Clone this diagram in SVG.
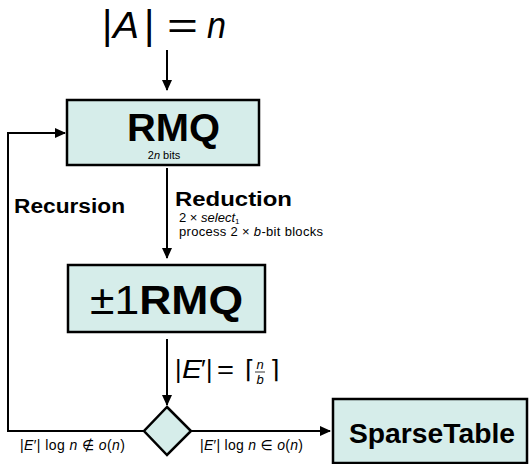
<svg xmlns="http://www.w3.org/2000/svg" width="529" height="464" viewBox="0 0 529 464">
<style>
.box{fill:#d6edea;stroke:#000;stroke-width:2.5}
.ln{fill:none;stroke:#000;stroke-width:2}
text{font-family:"Liberation Sans","DejaVu Sans",sans-serif;fill:#000}
.b{font-weight:bold}
.i{font-style:italic}
</style>
<defs>
<marker id="ah" markerWidth="11" markerHeight="10" refX="10" refY="5" orient="auto" markerUnits="userSpaceOnUse">
<path d="M0,0 L11,5 L0,10 Z" fill="#000"/>
</marker>
</defs>
<rect width="529" height="464" fill="#fff"/>
<g id="connectors">
<line class="ln" x1="167" y1="50" x2="167" y2="90" marker-end="url(#ah)"/>
<line class="ln" x1="167" y1="168" x2="167" y2="258" marker-end="url(#ah)"/>
<line class="ln" x1="167" y1="339" x2="167" y2="405" marker-end="url(#ah)"/>
<polyline class="ln" points="144,431 8,431 8,133 65,133" marker-end="url(#ah)"/>
<line class="ln" x1="191" y1="431" x2="330" y2="431" marker-end="url(#ah)"/>
<text x="175" y="206" font-size="20" class="b" textLength="117" lengthAdjust="spacingAndGlyphs">Reduction</text>
<text x="179" y="222" font-size="13">2 × <tspan class="i">select</tspan><tspan font-size="8" dy="1.5">1</tspan></text>
<text x="179" y="236" font-size="13" textLength="144">process 2 × <tspan class="i">b</tspan>-bit blocks</text>
<text x="14" y="213" font-size="20" class="b" textLength="111" lengthAdjust="spacingAndGlyphs">Recursion</text>
<g font-size="25">
<text x="175" y="378">|</text>
<text x="182" y="378" class="i" textLength="20" lengthAdjust="spacingAndGlyphs">E</text>
<text x="201" y="378">′</text>
<text x="206" y="378">|</text>
<text x="217" y="378" textLength="17" lengthAdjust="spacingAndGlyphs">=</text>
<text x="245" y="378">⌈</text>
<text x="270" y="378">⌉</text>
</g>
<text x="260" y="369" font-size="13" class="i" text-anchor="middle">n</text>
<line x1="255" y1="372" x2="265" y2="372" stroke="#000" stroke-width="0.8"/>
<text x="260" y="384" font-size="13" class="i" text-anchor="middle">b</text>
<text x="20" y="450" font-size="14" textLength="105">|<tspan class="i">E</tspan>′| log <tspan class="i">n</tspan> ∉ <tspan class="i">o</tspan>(<tspan class="i">n</tspan>)</text>
<text x="200" y="450" font-size="14" textLength="103">|<tspan class="i">E</tspan>′| log <tspan class="i">n</tspan> ∈ <tspan class="i">o</tspan>(<tspan class="i">n</tspan>)</text>
</g>
<g id="input">
<text x="102" y="39" font-size="40">|</text>
<text x="113" y="38" font-size="36" class="i" textLength="26" lengthAdjust="spacingAndGlyphs">A</text>
<text x="144" y="39" font-size="40">|</text>
<text x="167" y="38" font-size="36" textLength="31" lengthAdjust="spacingAndGlyphs">=</text>
<text x="207" y="38" font-size="36" class="i" textLength="19" lengthAdjust="spacingAndGlyphs">n</text>
</g>
<g id="rmq">
<rect class="box" x="67" y="100" width="192" height="65"/>
<text x="127" y="141" font-size="39" class="b" textLength="93" lengthAdjust="spacingAndGlyphs">RMQ</text>
<text x="164" y="159" font-size="11" text-anchor="middle">2<tspan class="i">n</tspan> bits</text>
</g>
<g id="pm1rmq">
<rect class="box" x="68" y="265" width="197" height="67"/>
<text x="90" y="314" font-size="40" textLength="153" lengthAdjust="spacingAndGlyphs">±1<tspan class="b">RMQ</tspan></text>
</g>
<g id="decision">
<polygon class="box" points="167,407 191,431 167,455 144,431"/>
</g>
<g id="sparsetable">
<rect class="box" x="333" y="399" width="194" height="64"/>
<text x="349" y="443" font-size="28" class="b" textLength="166" lengthAdjust="spacingAndGlyphs">SparseTable</text>
</g>
</svg>
